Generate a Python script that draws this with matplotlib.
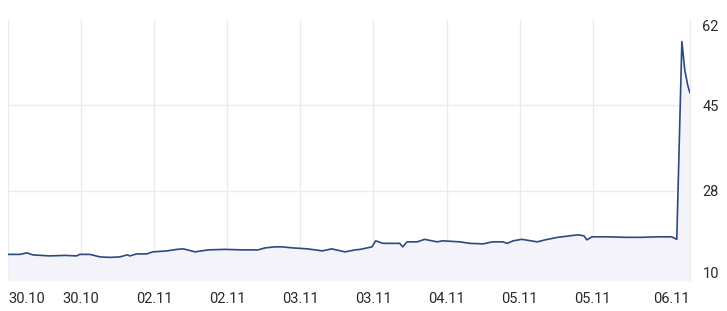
import matplotlib.pyplot as plt

plt.rcParams['font.family'] = ['Roboto', 'DejaVu Sans']

# time in tick intervals (one x tick = 1.0)
t = [0.0, 0.16, 0.26, 0.34, 0.57, 0.78, 0.94, 0.98, 1.12, 1.26, 1.40, 1.53, 1.63, 1.67,
     1.76, 1.90, 1.98, 2.18, 2.31, 2.40, 2.56, 2.74, 2.97, 3.20, 3.42, 3.52, 3.65, 3.75,
     3.89, 4.10, 4.30, 4.43, 4.61, 4.75, 4.82, 4.98, 5.03, 5.13, 5.36, 5.40, 5.46, 5.60,
     5.70, 5.87, 5.95, 6.18, 6.32, 6.50, 6.63, 6.77, 6.83, 6.91, 7.03, 7.24, 7.35, 7.52,
     7.80, 7.88, 7.92, 7.99, 8.21, 8.44, 8.67, 8.89, 9.08, 9.15, 9.22, 9.26, 9.30, 9.33]
price = [15.3, 15.3, 15.6, 15.2, 15.0, 15.1, 15.0, 15.3, 15.3, 14.8, 14.7, 14.8, 15.2, 15.0,
         15.4, 15.4, 15.8, 16.0, 16.3, 16.4, 15.8, 16.2, 16.3, 16.2, 16.2, 16.6, 16.8, 16.8,
         16.6, 16.4, 16.0, 16.4, 15.8, 16.2, 16.3, 16.8, 18.0, 17.5, 17.5, 16.8, 17.8, 17.8,
         18.3, 17.8, 18.0, 17.8, 17.5, 17.4, 17.8, 17.8, 17.5, 18.0, 18.3, 17.8, 18.2, 18.7,
         19.2, 19.0, 18.2, 18.8, 18.8, 18.7, 18.7, 18.8, 18.8, 18.3, 57.7, 52.0, 49.0, 47.5]

tick_pos = [0, 1, 2, 3, 4, 5, 6, 7, 8, 9.33]
tick_labels = ["30.10", "30.10", "02.11", "02.11", "03.11", "03.11",
               "04.11", "05.11", "05.11", "06.11"]
y_ticks = [10, 28, 45, 62]

fig = plt.figure(figsize=(7.27, 3.11), dpi=100)
ax = fig.add_axes([0.011, 0.0965, 0.938, 0.8392])

ax.fill_between(t, price, 10, color='#f3f3f9', lw=0)
ax.plot(t, price, color='#2b4a7f', lw=1.2)

ax.set_xlim(0, 9.33)
ax.set_ylim(10, 62)

ax.set_xticks(tick_pos)
ax.set_xticklabels(tick_labels)
ax.set_yticks(y_ticks)
ax.yaxis.tick_right()
ax.tick_params(axis='both', length=0, labelsize=10.5, labelcolor='#2a2a2a')
ax.tick_params(axis='x', pad=8)
ax.tick_params(axis='y', pad=9)

xl = ax.get_xticklabels()
xl[0].set_ha('left')
xl[-1].set_ha('right')
yl = ax.get_yticklabels()
yl[0].set_va('bottom')
yl[-1].set_va('top')

ax.grid(True, color='#ebebeb', lw=1)
ygrid = ax.get_ygridlines()
ygrid[0].set_visible(False)
ygrid[-1].set_visible(False)
ax.set_axisbelow(True)
for s in ['top', 'left', 'bottom']:
    ax.spines[s].set_visible(False)
ax.spines['right'].set_color('#ebebeb')

fig.savefig('out.png', dpi=100)
